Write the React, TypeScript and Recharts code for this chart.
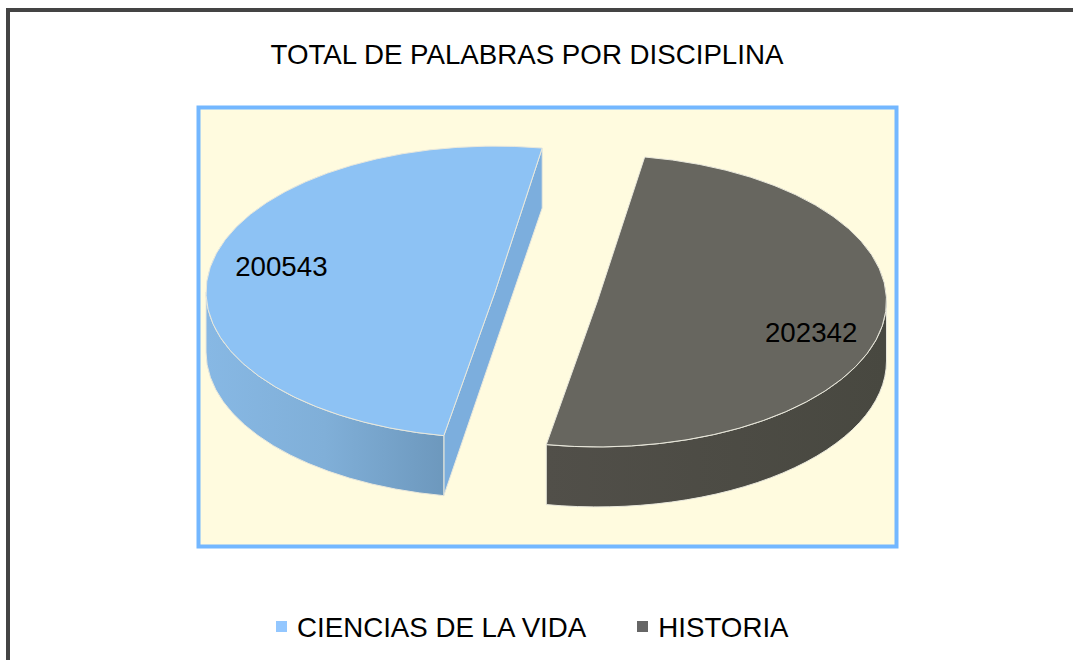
import React from "react";
import { Legend, Pie, PieChart } from "recharts";

const categories = ["CIENCIAS DE LA VIDA", "HISTORIA"];
const values = [200543, 202342];
const topColors = ["#8DC2F4", "#67665F"];
const legendColors = ["#93C7FF", "#666666"];
const faceColors = ["#7CAEDD", "#4F4E47"];
const labelShift = [-3.6, -6.4];
const labelRadius = [0.76, 0.77];

const data = categories.map((name, i) => ({ name, value: values[i], fill: topColors[i] }));

const FONT = "'Liberation Sans', Arial, sans-serif";
const W = 1073;
const H = 660;
const TILT = 0.505;
const DEPTH = 60;
const EXPLODE = 52;
const EDGE = "#E9E8DC";
const RAD = Math.PI / 180;

// pie slice squashed into an ellipse, with its side wall below it
function Slice3D(props: any) {
  const { cx, cy, outerRadius: r, startAngle, endAngle, midAngle, fill, index } = props;
  const ox = cx + EXPLODE * Math.cos(midAngle * RAD);
  const oy = cy - EXPLODE * TILT * Math.sin(midAngle * RAD);
  const ry = r * TILT;
  const pt = (a: number, dy = 0) =>
    `${ox + r * Math.cos(a * RAD)} ${oy - ry * Math.sin(a * RAD) + dy}`;
  const arc = (a: number, b: number, dy = 0) => {
    const large = Math.abs(b - a) > 180 ? 1 : 0;
    const sweep = b > a ? 0 : 1;
    return `A ${r} ${ry} 0 ${large} ${sweep} ${pt(b, dy)}`;
  };
  const wallFrom = Math.max(startAngle, 180);
  const wallTo = Math.min(endAngle, 360);
  const wall = `M ${pt(wallFrom)} ${arc(wallFrom, wallTo)} L ${pt(wallTo, DEPTH)} ${arc(wallTo, wallFrom, DEPTH)} Z`;
  const faceVisible = Math.cos(midAngle * RAD) < 0;
  const face = `M ${pt(startAngle)} L ${ox} ${oy} L ${pt(endAngle)} L ${pt(endAngle, DEPTH)} L ${pt(startAngle, DEPTH)} Z`;
  const top = `M ${ox} ${oy} L ${pt(startAngle)} ${arc(startAngle, endAngle)} Z`;
  return (
    <g>
      {faceVisible && <path d={face} fill={faceColors[index]} stroke={EDGE} strokeWidth={1} />}
      <path d={wall} fill={`url(#wall${index})`} stroke={EDGE} strokeWidth={1} />
      <path d={top} fill={fill} stroke={EDGE} strokeWidth={1} />
    </g>
  );
}

function sliceLabel(props: any) {
  const { cx, cy, outerRadius: r, midAngle, value, index } = props;
  const a = (midAngle + labelShift[index]) * RAD;
  const k = labelRadius[index];
  const ox = cx + EXPLODE * Math.cos(midAngle * RAD);
  const oy = cy - EXPLODE * TILT * Math.sin(midAngle * RAD);
  return (
    <text
      x={ox + k * r * Math.cos(a)}
      y={oy - k * r * TILT * Math.sin(a)}
      textAnchor="middle"
      dominantBaseline="central"
      fontFamily={FONT}
      fontSize={27.7}
      fill="#000"
    >
      {value}
    </text>
  );
}

function LegendRow() {
  return (
    <div style={{ display: "flex", alignItems: "center", fontFamily: FONT, fontSize: 27.7, color: "#000", lineHeight: "32px" }}>
      {categories.map((c, i) => (
        <div key={c} style={{ display: "flex", alignItems: "center", marginRight: i === 0 ? 51 : 0 }}>
          <span style={{ width: 11, height: 11, background: legendColors[i], marginRight: 10, marginTop: -4 }} />
          {c}
        </div>
      ))}
    </div>
  );
}

export default function App() {
  return (
    <div style={{ position: "absolute", left: 0, top: 0, width: W, height: H, overflow: "hidden", background: "#fff" }}>
      <PieChart width={W} height={H} margin={{ top: 0, right: 0, bottom: 0, left: 0 }}>
        <defs>
          <linearGradient id="wall0" x1="0" y1="0" x2="1" y2="0">
            <stop offset="0" stopColor="#87B8E4" />
            <stop offset="0.5" stopColor="#80AFD8" />
            <stop offset="1" stopColor="#6D98BD" />
          </linearGradient>
          <linearGradient id="wall1" x1="0" y1="0" x2="1" y2="0">
            <stop offset="0" stopColor="#514F49" />
            <stop offset="1" stopColor="#484840" />
          </linearGradient>
        </defs>
        <rect x={8} y={10} width={1200} height={800} fill="#fff" stroke="#444444" strokeWidth={4} />
        <rect x={198.5} y={107.5} width={698} height={439} fill="#FFFBDF" stroke="#73B7FF" strokeWidth={4} />
        <text x={527} y={54} textAnchor="middle" dominantBaseline="central" fontFamily={FONT} fontSize={27.7} fill="#000">
          TOTAL DE PALABRAS POR DISCIPLINA
        </text>
        <Pie
          data={data}
          dataKey="value"
          nameKey="name"
          cx={546.25}
          cy={296.5}
          innerRadius={0}
          outerRadius={289}
          startAngle={80.6}
          endAngle={440.6}
          paddingAngle={0}
          stroke="none"
          shape={Slice3D}
          label={sliceLabel}
          labelLine={false}
          isAnimationActive={false}
        />
        <Legend
          content={<LegendRow />}
          layout="horizontal"
          verticalAlign="bottom"
          align="left"
          wrapperStyle={{ left: 276, top: 612, width: 560, height: 32 }}
        />
      </PieChart>
    </div>
  );
}
